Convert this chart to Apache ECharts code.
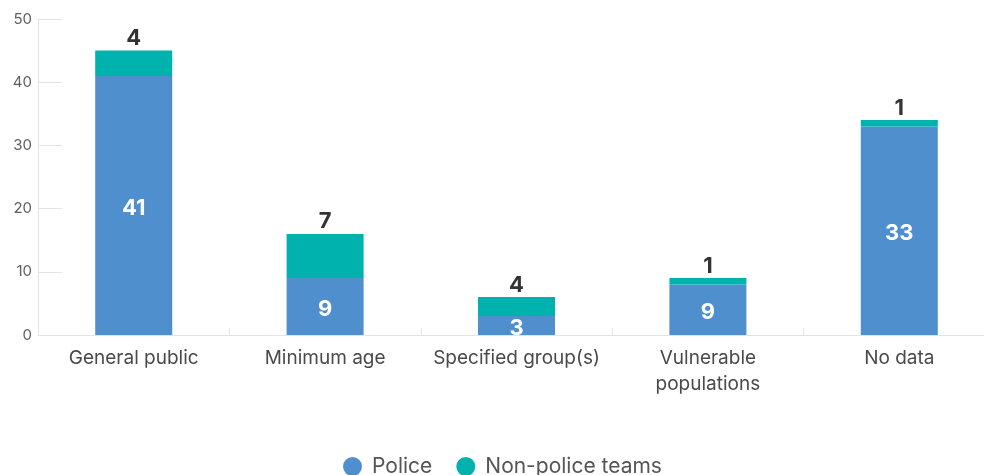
<!DOCTYPE html>
<html>
<head>
<meta charset="utf-8">
<script src="https://cdn.jsdelivr.net/npm/echarts@6/dist/echarts.min.js"></script>
<style>
  html, body { margin: 0; padding: 0; background: #fff; overflow: hidden; }
  /* the plot runs past the right edge of the window in the reference */
  #chart { width: 995px; height: 475px; }
</style>
</head>
<body>
<div id="chart"></div>
<script>
// categories
const categories = ['General public', 'Minimum age', 'Specified group(s)', 'Vulnerable\npopulations', 'No data']
// bar heights as drawn
const policeValues = [41, 9, 3, 8, 33]
const nonPoliceValues = [4, 7, 3, 1, 1]
// labels printed on the bars
const policeLabels = [41, 9, 3, 9, 33]
const nonPoliceLabels = [4, 7, 4, 1, 1]
const yTicks = [0, 10, 20, 30, 40, 50]

const chart = echarts.init(document.getElementById('chart'))

const option = {
  animation: false,
  textStyle: { fontFamily: 'Inter, "Noto Sans", sans-serif' },
  grid: { left: 38, right: 0, top: 19, bottom: 140, containLabel: false },
  legend: {
    left: 338,
    bottom: -7,
    icon: 'circle',
    itemWidth: 19,
    itemHeight: 19,
    itemGap: 24,
    textStyle: { fontSize: 21, color: '#555', fontFamily: 'Inter, sans-serif', padding: [0, 0, 0, 5] },
    data: ['Police', 'Non-police teams']
  },
  xAxis: {
    type: 'category',
    data: categories,
    axisLine: { lineStyle: { color: '#e3e3e3' } },
    axisTick: { show: true, inside: true, length: 7, lineStyle: { color: '#e3e3e3' } },
    axisLabel: { fontSize: 19, color: '#4a4a4a', margin: 10, lineHeight: 26, interval: 0 }
  },
  yAxis: {
    type: 'value',
    min: yTicks[0],
    max: yTicks[yTicks.length - 1],
    interval: 10,
    splitLine: { show: false },
    axisLine: { show: true, lineStyle: { color: '#e3e3e3' } },
    axisTick: { show: true, inside: true, length: 24, lineStyle: { color: '#e3e3e3' } },
    axisLabel: { fontSize: 15, color: '#5f5f5f', margin: 6 }
  },
  series: [
    {
      name: 'Police',
      type: 'bar',
      stack: 'total',
      barWidth: 77,
      itemStyle: { color: '#508fcd' },
      label: {
        show: true,
        position: 'inside',
        offset: [0, 3],
        color: '#fff',
        fontSize: 22,
        fontWeight: 'bold',
        formatter: (p) => policeLabels[p.dataIndex]
      },
      data: policeValues
    },
    {
      name: 'Non-police teams',
      type: 'bar',
      stack: 'total',
      barWidth: 77,
      itemStyle: { color: '#00b2ae' },
      label: {
        show: true,
        position: 'top',
        distance: 1,
        color: '#333',
        fontSize: 22,
        fontWeight: 'bold',
        formatter: (p) => nonPoliceLabels[p.dataIndex]
      },
      data: nonPoliceValues
    }
  ]
}

chart.setOption(option)
</script>
</body>
</html>
